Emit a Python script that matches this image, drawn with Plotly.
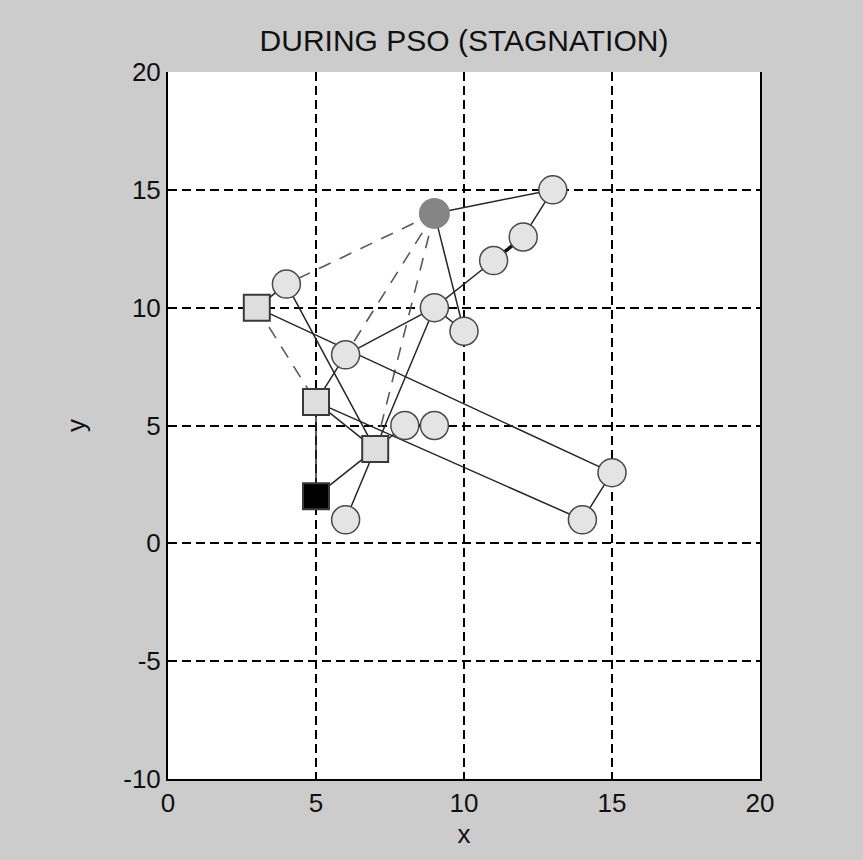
import plotly.graph_objects as go

# Node positions (particles)
node_x = [9, 13, 12, 11, 4, 3, 9, 10, 6, 5, 8, 9, 7, 5, 6, 15, 14]
node_y = [14, 15, 13, 12, 11, 10, 10, 9, 8, 6, 5, 5, 4, 2, 1, 3, 1]
node_kind = ["gbest", "c", "c", "c", "c", "s", "c", "c", "c", "s", "c", "c", "s", "best", "c", "c", "c"]

# Connections (node index pairs)
solid_edges = [(0, 1), (1, 2), (3, 6), (6, 8), (0, 7), (6, 7), (6, 12), (4, 12), (5, 4),
               (5, 15), (15, 16), (9, 16), (9, 13), (13, 12), (12, 14), (12, 10),
               (8, 9), (9, 12)]
thick_edges = [(2, 3), (10, 11)]
dashed_edges = [(0, 4), (0, 8), (0, 12), (5, 9)]

x_ticks = [0, 5, 10, 15, 20]
y_ticks = [-10, -5, 0, 5, 10, 15, 20]


def edge_xy(edges):
    xs, ys = [], []
    for a, b in edges:
        xs += [node_x[a], node_x[b], None]
        ys += [node_y[a], node_y[b], None]
    return xs, ys


fig = go.Figure()

ex, ey = edge_xy(dashed_edges)
fig.add_trace(go.Scatter(x=ex, y=ey, mode="lines",
                         line=dict(color="#5a5a5a", width=1.6, dash="13px,10px"),
                         hoverinfo="skip", showlegend=False))
ex, ey = edge_xy(solid_edges)
fig.add_trace(go.Scatter(x=ex, y=ey, mode="lines",
                         line=dict(color="#262626", width=1.5),
                         hoverinfo="skip", showlegend=False))
ex, ey = edge_xy(thick_edges)
fig.add_trace(go.Scatter(x=ex, y=ey, mode="lines",
                         line=dict(color="#111111", width=3.5),
                         hoverinfo="skip", showlegend=False))


def pick(kind):
    idx = [i for i, k in enumerate(node_kind) if k == kind]
    return [node_x[i] for i in idx], [node_y[i] for i in idx]


cx, cy = pick("c")
fig.add_trace(go.Scatter(x=cx, y=cy, mode="markers",
                         marker=dict(symbol="circle", size=28, color="#e4e4e4",
                                     line=dict(color="#4a4a4a", width=1.5)),
                         showlegend=False))
sx, sy = pick("s")
fig.add_trace(go.Scatter(x=sx, y=sy, mode="markers",
                         marker=dict(symbol="square", size=26, color="#dedede",
                                     line=dict(color="#3a3a3a", width=2)),
                         showlegend=False))
bx, by = pick("best")
fig.add_trace(go.Scatter(x=bx, y=by, mode="markers",
                         marker=dict(symbol="square", size=26, color="#000000",
                                     line=dict(color="#3a3a3a", width=2)),
                         showlegend=False))
gx, gy = pick("gbest")
fig.add_trace(go.Scatter(x=gx, y=gy, mode="markers",
                         marker=dict(symbol="circle", size=31, color="#858585",
                                     line=dict(width=0)),
                         showlegend=False))

font = "Liberation Sans, Arial, sans-serif"
fig.update_layout(
    width=863, height=860,
    margin=dict(l=168, r=103, t=72, b=81),
    paper_bgcolor="#cccccc",
    plot_bgcolor="#ffffff",
    font=dict(family=font, color="#111111", size=25),
    title=dict(text="DURING PSO (STAGNATION)", x=0.5, xanchor="center",
               xref="paper", y=1 - 40 / 860, yanchor="middle",
               font=dict(size=30, family=font, color="#111111")),
)
fig.update_xaxes(range=[0, 20], tickvals=x_ticks, ticktext=[str(v) for v in x_ticks],
                 showgrid=True, gridcolor="#000000", griddash="9px,5px", gridwidth=1.6,
                 showline=True, linecolor="#000000", linewidth=2, mirror=False,
                 ticks="inside", ticklen=5, tickcolor="#000000",
                 zeroline=False, tickfont=dict(size=26),
                 title=dict(text="x", font=dict(size=26), standoff=8))
fig.update_yaxes(range=[-10, 20], tickvals=y_ticks, ticktext=[str(v) for v in y_ticks],
                 showgrid=True, gridcolor="#000000", griddash="9px,5px", gridwidth=1.6,
                 showline=True, linecolor="#000000", linewidth=2, mirror=True,
                 ticks="inside", ticklen=5, tickcolor="#000000",
                 zeroline=False, tickfont=dict(size=26),
                 title=dict(text="y", font=dict(size=26), standoff=30))

fig.write_html("out.html")
